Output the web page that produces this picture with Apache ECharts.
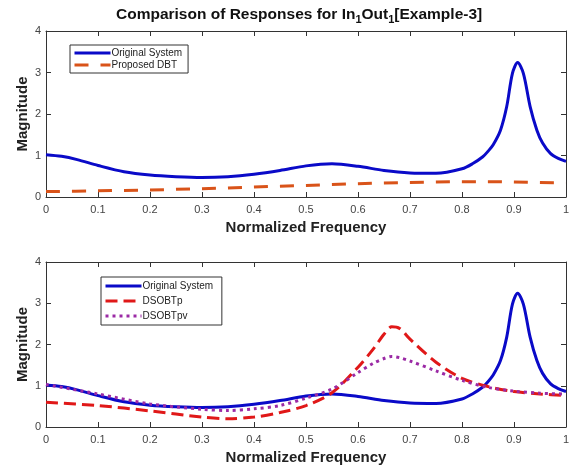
<!DOCTYPE html>
<html>
<head>
<meta charset="utf-8">
<script src="https://cdn.jsdelivr.net/npm/echarts@6/dist/echarts.min.js"></script>
<style>
  html, body { margin: 0; padding: 0; background: #fff; }
  #chart { width: 574px; height: 472px; }
</style>
</head>
<body>
<div id="chart"></div>
<script>
// original system response (dense near the resonance peak)
const freqOrig = [0, 0.03, 0.06, 0.1, 0.15, 0.2, 0.25, 0.3, 0.35, 0.4, 0.45, 0.5, 0.55, 0.6, 0.65, 0.7, 0.75, 0.8, 0.82, 0.84, 0.85, 0.86, 0.874, 0.886, 0.897, 0.907, 0.918, 0.931, 0.944, 0.955, 0.97, 0.985, 1.0];
const origSystem = [1.02, 0.98, 0.9, 0.76, 0.61, 0.53, 0.49, 0.47, 0.49, 0.55, 0.64, 0.75, 0.8, 0.74, 0.64, 0.58, 0.57, 0.68, 0.8, 0.97, 1.1, 1.26, 1.61, 2.18, 2.98, 3.24, 2.98, 2.18, 1.61, 1.3, 1.05, 0.93, 0.86];

// proposed DBT (top panel)
const freqDbt = [0, 0.1, 0.2, 0.3, 0.4, 0.5, 0.6, 0.7, 0.8, 0.85, 0.9, 1.0];
const proposedDbt = [0.13, 0.15, 0.17, 0.2, 0.24, 0.28, 0.32, 0.35, 0.37, 0.37, 0.36, 0.34];

// DSOBT variants (bottom panel)
const freqDso = [0, 0.1, 0.2, 0.3, 0.35, 0.4, 0.45, 0.5, 0.55, 0.6, 0.63, 0.65, 0.665, 0.68, 0.7, 0.75, 0.8, 0.85, 0.9, 0.95, 1.0];
const dsobtP = [0.6, 0.52, 0.39, 0.24, 0.2, 0.24, 0.35, 0.52, 0.83, 1.45, 1.9, 2.25, 2.43, 2.39, 2.13, 1.57, 1.18, 0.98, 0.86, 0.8, 0.76];
const dsobtPv = [1.03, 0.8, 0.56, 0.43, 0.4, 0.44, 0.52, 0.7, 0.92, 1.32, 1.55, 1.66, 1.71, 1.68, 1.6, 1.36, 1.13, 0.96, 0.87, 0.82, 0.8];

const font = "Liberation Sans, Arial, sans-serif";
const axisColor = "#333";

function pairs(xs, ys) {
  return xs.map((x, i) => [x, ys[i]]);
}

function xAxes(gridIndex) {
  const base = {
    gridIndex,
    type: "value",
    min: 0,
    max: 1,
    interval: 0.1,
    splitLine: { show: false },
    axisLine: { onZero: false, lineStyle: { color: axisColor, width: 1 } },
    axisTick: { inside: true, length: 5, lineStyle: { color: axisColor } },
  };
  return [
    {
      ...base,
      position: "bottom",
      name: "Normalized Frequency",
      nameLocation: "middle",
      nameGap: 23,
      nameMoveOverlap: false,
      nameTextStyle: { fontFamily: font, fontSize: 15, fontWeight: "bold", color: "#222" },
      axisLabel: { fontFamily: font, fontSize: 11, color: "#444", margin: 7 },
    },
    { ...base, position: "top", axisLabel: { show: false } },
  ];
}

function yAxes(gridIndex) {
  const base = {
    gridIndex,
    type: "value",
    min: 0,
    max: 4,
    interval: 1,
    splitLine: { show: false },
    axisLine: { show: true, onZero: false, lineStyle: { color: axisColor, width: 1 } },
    axisTick: { show: true, inside: true, length: 5, lineStyle: { color: axisColor } },
  };
  return [
    {
      ...base,
      position: "left",
      name: "Magnitude",
      nameLocation: "middle",
      nameGap: 16,
      nameMoveOverlap: false,
      nameTextStyle: { fontFamily: font, fontSize: 15, fontWeight: "bold", color: "#222" },
      axisLabel: { fontFamily: font, fontSize: 11, color: "#444", margin: 5 },
    },
    { ...base, position: "right", axisLabel: { show: false } },
  ];
}

const legendBase = {
  orient: "vertical",
  itemWidth: 36,
  itemHeight: 10,
  padding: [3, 6, 3, 3],
  borderColor: "#333",
  borderWidth: 1,
  backgroundColor: "#fff",
  itemStyle: { opacity: 0 },
  lineStyle: { width: 3 },
  textStyle: { fontFamily: font, fontSize: 10, color: "#222", padding: [0, 0, 0, -4] },
};

const chart = echarts.init(document.getElementById("chart"));
chart.setOption({
  animation: false,
  backgroundColor: "#fff",
  title: {
    text: "Comparison of Responses for In{s|1}Out{s|1}[Example-3]",
    left: 111,
    top: 0,
    textStyle: {
      fontFamily: font,
      fontSize: 15.5,
      fontWeight: "bold",
      color: "#111",
      rich: {
        s: { fontFamily: font, fontSize: 11, fontWeight: "bold", color: "#111", verticalAlign: "bottom", padding: [9, 0, 0, 0] },
      },
    },
  },
  legend: [
    { ...legendBase, left: 70, top: 45, itemGap: 2, data: ["Original System", "Proposed DBT"] },
    { ...legendBase, left: 101, top: 277, itemGap: 5, padding: [4, 6, 4, 3], data: ["Original System ", "DSOBTp", "DSOBTpv"] },
  ],
  grid: [
    { left: 46, right: 8, top: 31, height: 166 },
    { left: 46, right: 8, top: 262, height: 165 },
  ],
  xAxis: [...xAxes(0), ...xAxes(1)],
  yAxis: [...yAxes(0), ...yAxes(1)],
  series: [
    {
      name: "Original System",
      type: "line",
      xAxisIndex: 0,
      yAxisIndex: 0,
      data: pairs(freqOrig, origSystem),
      smooth: 0.3,
      symbol: "none",
      lineStyle: { color: "#0a0ac8", width: 3 },
      itemStyle: { color: "#0a0ac8" },
    },
    {
      name: "Proposed DBT",
      type: "line",
      xAxisIndex: 0,
      yAxisIndex: 0,
      data: pairs(freqDbt, proposedDbt),
      smooth: 0.3,
      symbol: "none",
      lineStyle: { color: "#d95319", width: 3, type: [14, 12] },
      itemStyle: { color: "#d95319" },
    },
    {
      name: "Original System ",
      type: "line",
      xAxisIndex: 2,
      yAxisIndex: 2,
      data: pairs(freqOrig, origSystem),
      smooth: 0.3,
      symbol: "none",
      lineStyle: { color: "#0a0ac8", width: 3 },
      itemStyle: { color: "#0a0ac8" },
    },
    {
      name: "DSOBTp",
      type: "line",
      xAxisIndex: 2,
      yAxisIndex: 2,
      data: pairs(freqDso, dsobtP),
      smooth: 0.3,
      symbol: "none",
      lineStyle: { color: "#e01818", width: 3, type: [12, 6] },
      itemStyle: { color: "#e01818" },
    },
    {
      name: "DSOBTpv",
      type: "line",
      xAxisIndex: 2,
      yAxisIndex: 2,
      data: pairs(freqDso, dsobtPv),
      smooth: 0.3,
      symbol: "none",
      lineStyle: { color: "#9b2aa5", width: 3, type: [3, 4] },
      itemStyle: { color: "#9b2aa5" },
    },
  ],
});
</script>
</body>
</html>
